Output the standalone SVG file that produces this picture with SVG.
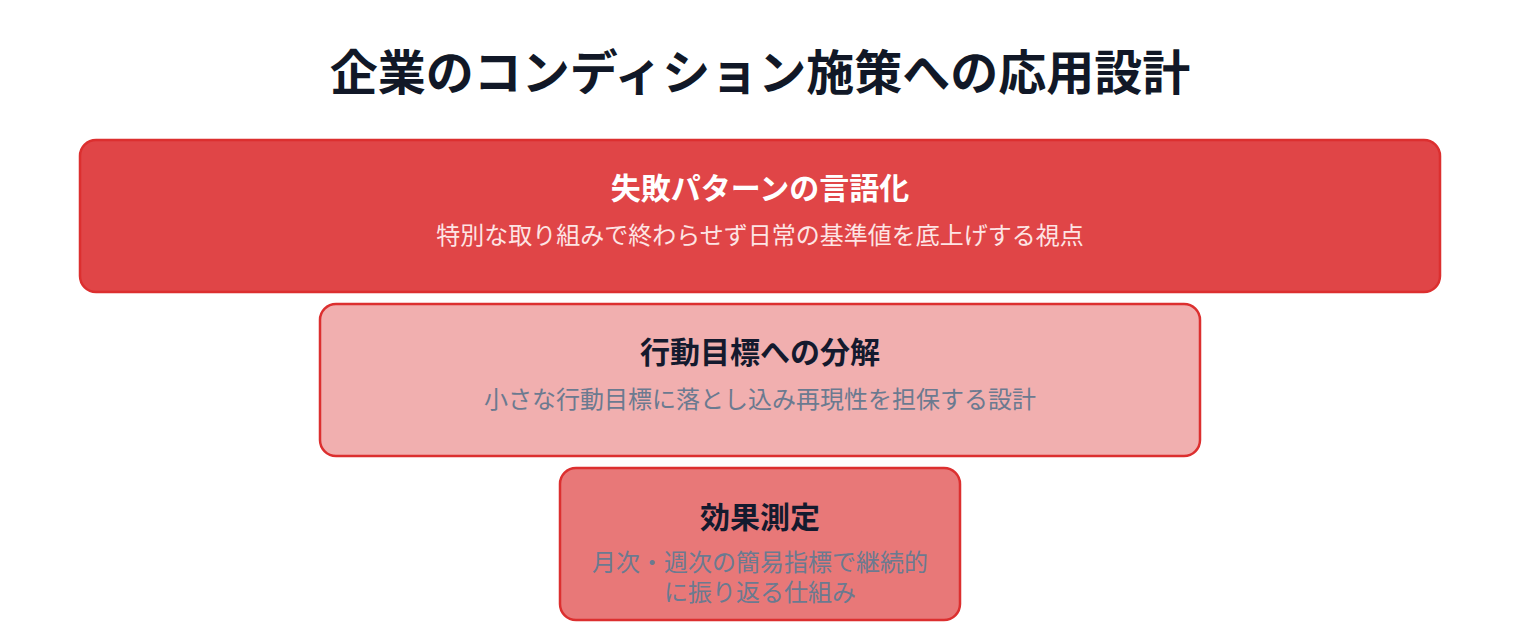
<svg xmlns="http://www.w3.org/2000/svg" width="1520" height="632" viewBox="0 0 1520 632">
<style>
.box{stroke:#dc2f2f;stroke-width:2.5}
.t{font-family:"Noto Sans CJK JP","Noto Sans",sans-serif;text-anchor:middle}
.h1{font-size:48px;font-weight:700;fill:#111827}
.nt{font-size:30px;font-weight:700}
.ns{font-size:24px;font-weight:400}
</style>
<rect width="1520" height="632" fill="#ffffff"/>
<text class="t h1" x="760" y="90">企業のコンディション施策への応用設計</text>
<g id="connectors"></g>
<g id="node1">
<rect class="box" x="80" y="140" width="1360" height="152" rx="16" fill="#e04547"/>
<text class="t nt" x="760" y="199" fill="#ffffff">失敗パターンの言語化</text>
<text class="t ns" x="760" y="244" fill="#fde4e4">特別な取り組みで終わらせず日常の基準値を底上げする視点</text>
</g>
<g id="node2">
<rect class="box" x="320" y="304" width="880" height="152" rx="16" fill="#f1afaf"/>
<text class="t nt" x="760" y="363" fill="#141a2e">行動目標への分解</text>
<text class="t ns" x="760" y="408" fill="#6b7a90">小さな行動目標に落とし込み再現性を担保する設計</text>
</g>
<g id="node3">
<rect class="box" x="560" y="468" width="400" height="152" rx="16" fill="#e87878"/>
<text class="t nt" x="760" y="528" fill="#141a2e">効果測定</text>
<text class="t ns" x="760" y="571" fill="#6b7a90">月次・週次の簡易指標で継続的</text>
<text class="t ns" x="760" y="601" fill="#6b7a90">に振り返る仕組み</text>
</g>
</svg>
